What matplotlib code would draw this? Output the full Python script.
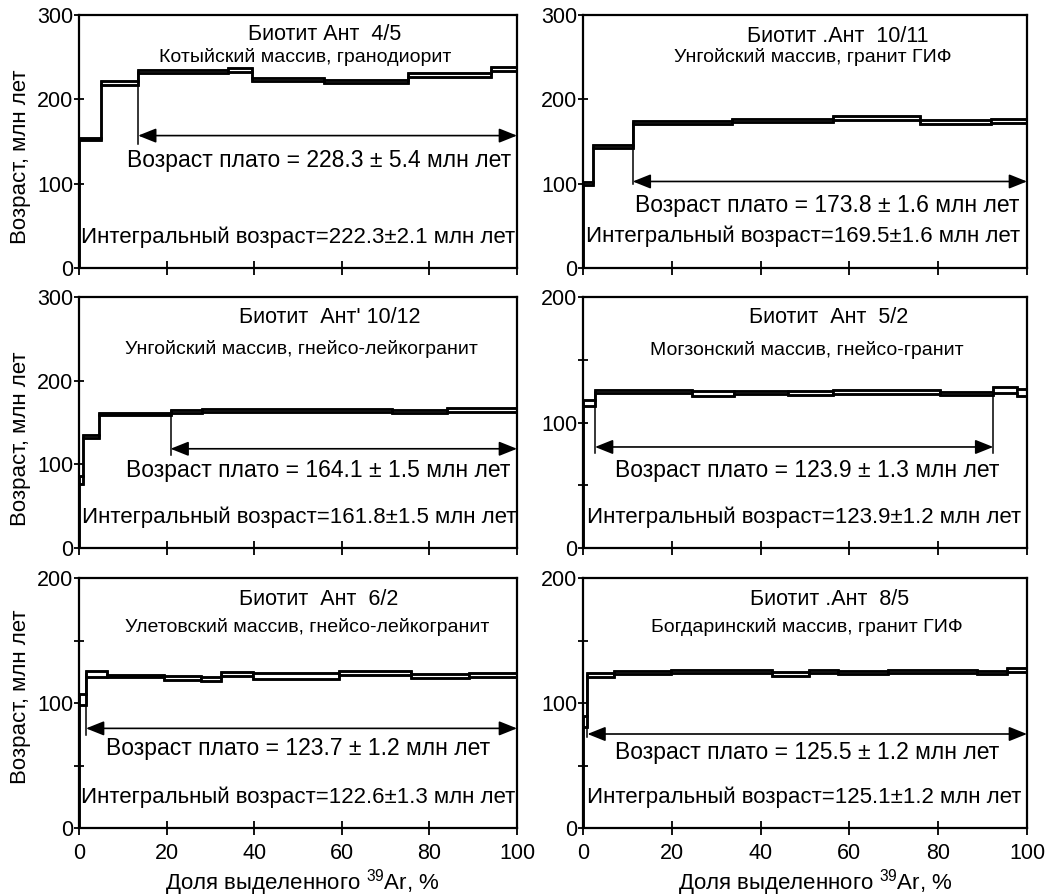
import numpy as np
import matplotlib
matplotlib.use("Agg")
import matplotlib.pyplot as plt
from matplotlib.ticker import MultipleLocator

plt.rcParams["font.family"] = ["Liberation Sans", "DejaVu Sans"]
plt.rcParams["mathtext.fontset"] = "custom"
plt.rcParams["mathtext.rm"] = "Liberation Sans"

# --- данные: границы ступеней (% 39Ar), возраст и полуширина прямоугольника ---
p1_edges = [0, 5, 13.5, 34, 39.5, 56, 75, 94, 100]
p1_age = [153, 219.5, 233, 234.5, 223.5, 221, 228.5, 236]
p1_err = [1.4, 2.2, 2.0, 2.4, 2.2, 2.0, 2.4, 2.2]

p2_edges = [0, 2.2, 11.2, 33.5, 56.4, 75.9, 91.8, 100]
p2_age = [100.5, 143.5, 172.5, 175, 178, 173, 174]
p2_err = [1.8, 1.8, 1.8, 1.8, 2.4, 2.0, 2.4]

p3_edges = [0, 1.0, 4.6, 20.9, 28, 71.4, 84, 100]
p3_age = [81, 133, 160, 163.3, 164.3, 163, 165]
p3_err = [4.8, 1.8, 1.4, 1.8, 1.6, 1.4, 2.2]

p4_edges = [0, 2.7, 24.5, 33.9, 46.2, 56.4, 80.4, 92.4, 97.7, 100]
p4_age = [115.5, 124.7, 123.2, 123.7, 123.3, 124.2, 123, 126, 124]
p4_err = [2.1, 1.5, 1.9, 1.3, 1.5, 1.3, 1.2, 2.1, 2.8]

p5_edges = [0, 1.6, 6.4, 19.3, 27.9, 32.4, 39.7, 59.4, 75.8, 89.1, 100]
p5_age = [102.7, 123, 121.5, 120, 119.2, 123.5, 121.7, 124, 121.6, 122.1]
p5_err = [4.3, 2.5, 0.9, 1.6, 1.9, 1.6, 2.5, 1.6, 1.3, 1.6]

p6_edges = [0, 1.0, 6.9, 19.8, 42.6, 50.8, 57.5, 68.8, 88.7, 95.4, 100]
p6_age = [85, 122.6, 124.4, 125, 123.3, 125, 124.3, 125, 124.3, 126.7]
p6_err = [4.5, 1.6, 1.2, 1.2, 1.5, 1.2, 1.3, 1.2, 1.3, 1.6]

# плато: начало, конец, уровень стрелки, низ вертикальной черты
plateau_start = [13.5, 11.2, 20.9, 2.7, 1.6, 1.0]
plateau_end = [100, 100, 100, 92.4, 100, 100]
plateau_arrow_y = [157, 102.6, 118.6, 80.5, 79.7, 75.2]
plateau_tick_low = [147, 99.4, 110.7, 75.7, 74.4, 73]

titles = ["Биотит Ант  4/5", "Биотит .Ант  10/11", "Биотит  Ант' 10/12",
          "Биотит  Ант  5/2", "Биотит  Ант  6/2", "Биотит .Ант  8/5"]
subtitles = ["Котыйский массив, гранодиорит", "Унгойский массив, гранит ГИФ",
             "Унгойский массив, гнейсо-лейкогранит", "Могзонский массив, гнейсо-гранит",
             "Улетовский массив, гнейсо-лейкогранит", "Богдаринский массив, гранит ГИФ"]
plateau_txt = ["Возраст плато = 228.3 ± 5.4 млн лет", "Возраст плато = 173.8 ± 1.6 млн лет",
               "Возраст плато = 164.1 ± 1.5 млн лет", "Возраст плато = 123.9 ± 1.3 млн лет",
               "Возраст плато = 123.7 ± 1.2 млн лет", "Возраст плато = 125.5 ± 1.2 млн лет"]
integral_txt = ["Интегральный возраст=222.3±2.1 млн лет", "Интегральный возраст=169.5±1.6 млн лет",
                "Интегральный возраст=161.8±1.5 млн лет", "Интегральный возраст=123.9±1.2 млн лет",
                "Интегральный возраст=122.6±1.3 млн лет", "Интегральный возраст=125.1±1.2 млн лет"]
y_max = [300, 300, 300, 200, 200, 200]

# положения текста (x в %, y базовой линии в млн лет)
title_pos = [(56.0, 270.2), (57.3, 267.6), (57.3, 268.6), (55.3, 179), (54.8, 178.4), (55.5, 178.4)]
sub_pos = [(51.6, 243.9), (51.8, 243.9), (50.8, 231.5), (50.4, 153.8), (52, 157), (50.3, 157)]
plat_pos = [(54.8, 119.4), (54.9, 66.8), (54.5, 84.5), (50.4, 56.8), (50.1, 58.4), (50.4, 55)]
integ_pos = [(0.5, 30.0), (0.6, 31.2), (0.6, 29.5), (0.8, 19.7), (0.4, 19.8), (1.0, 19.8)]
ylabel_center = [0.44, 0.434, 0.524]
xlabel_center = [0.51, 0.524]

edges_all = [p1_edges, p2_edges, p3_edges, p4_edges, p5_edges, p6_edges]
age_all = [p1_age, p2_age, p3_age, p4_age, p5_age, p6_age]
err_all = [p1_err, p2_err, p3_err, p4_err, p5_err, p6_err]

W, H = 1053, 896
fig = plt.figure(figsize=(W / 100, H / 100), dpi=100)

cols = [(79, 438), (583, 444)]
rows = [(15, 268), (297, 548), (578, 828)]

for i in range(6):
    r, c = divmod(i, 2)
    x0, w = cols[c]
    top, bot = rows[r]
    ax = fig.add_axes([x0 / W, 1 - bot / H, w / W, (bot - top) / H])

    edges = np.array(edges_all[i])
    age = np.array(age_all[i])
    err = np.array(err_all[i])
    lo = age - err
    hi = age + err

    ax.bar(edges[:-1], hi - lo, width=np.diff(edges), bottom=lo, align="edge",
           facecolor="white", edgecolor="black", linewidth=1.8, zorder=3)
    ax.stairs(lo, edges, color="black", linewidth=1.8, zorder=4)
    ax.stairs(hi, edges, color="black", linewidth=1.8, zorder=4)

    # стрелка плато
    ax.annotate("", xy=(plateau_end[i], plateau_arrow_y[i]),
                xytext=(plateau_start[i], plateau_arrow_y[i]),
                arrowprops=dict(arrowstyle="<|-|>,head_length=0.55,head_width=0.22",
                                mutation_scale=20, color="black", lw=1.2,
                                shrinkA=0, shrinkB=0))
    k0 = list(edges).index(plateau_start[i])
    ax.plot([plateau_start[i]] * 2, [plateau_tick_low[i], age[k0]], color="black", lw=1.1)
    if plateau_end[i] < 100:
        k1 = list(edges).index(plateau_end[i]) - 1
        ax.plot([plateau_end[i]] * 2, [plateau_tick_low[i], age[k1]], color="black", lw=1.1)

    ax.text(*title_pos[i], titles[i], ha="center", va="baseline", fontsize=15.5)
    ax.text(*sub_pos[i], subtitles[i], ha="center", va="baseline", fontsize=14)
    ax.text(*plat_pos[i], plateau_txt[i], ha="center", va="baseline", fontsize=16.5)
    ax.text(*integ_pos[i], integral_txt[i], ha="left", va="baseline", fontsize=16)

    ax.set_xlim(0, 100)
    ax.set_ylim(0, y_max[i])
    ax.xaxis.set_major_locator(MultipleLocator(20))
    ax.yaxis.set_major_locator(MultipleLocator(100))
    if y_max[i] == 200:
        ax.yaxis.set_minor_locator(MultipleLocator(50))
    else:
        ax.yaxis.set_minor_locator(MultipleLocator(1000))
    ax.tick_params(which="both", direction="inout", width=1.3,
                   labelsize=15.5, colors="black")
    ax.tick_params(axis="y", which="both", length=6.5, pad=1)
    ax.tick_params(axis="x", length=10, labelbottom=(r == 2), pad=6)
    for s in ax.spines.values():
        s.set_linewidth(1.6)
        s.set_zorder(5)

    if c == 0:
        ax.set_ylabel("Возраст, млн лет", fontsize=16, labelpad=0)
        ax.yaxis.set_label_coords(-48 / w, ylabel_center[r])
    if r == 2:
        ax.set_xlabel("Доля выделенного $^{39}$Ar, %", fontsize=16, va="baseline")
        ax.xaxis.set_label_coords(xlabel_center[c], -(889 - bot) / (bot - top))

fig.savefig("out.png", dpi=100)
